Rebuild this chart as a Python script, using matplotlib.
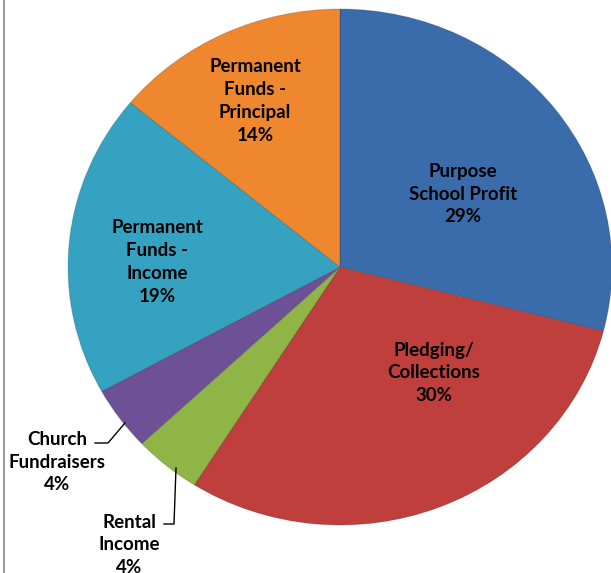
import matplotlib
matplotlib.use("Agg")
import matplotlib.pyplot as plt
from matplotlib.lines import Line2D
import numpy as np

categories = ["Purpose\nSchool Profit", "Pledging/\nCollections", "Rental\nIncome",
              "Church\nFundraisers", "Permanent\nFunds -\nIncome", "Permanent\nFunds -\nPrincipal"]
values = [29, 30, 4, 4, 19, 14]
colors = ["#3A6CAB", "#BE3F3B", "#8FB547", "#6E5097", "#35A2C2", "#EE872E"]

W, H = 611, 573
CX, CY, RX, RY = 340, 267, 272, 258

def to_data(px, py):
    return (px - CX) / RX, (CY - py) / RY

fig = plt.figure(figsize=(W / 100, H / 100), dpi=100)
ax = fig.add_axes([0, 0, 1, 1])
wedges, _ = ax.pie(values, colors=colors, startangle=90, counterclock=False,
                   radius=1, center=(0, 0),
                   wedgeprops=dict(edgecolor=(0, 0, 0, 0.15), linewidth=0.8))
ax.set_aspect("auto")
x0, _ = to_data(0, 0)
x1, _ = to_data(W, 0)
_, y0 = to_data(0, H)
_, y1 = to_data(0, 0)
ax.set_xlim(x0, x1)
ax.set_ylim(y0, y1)
ax.axis("off")

label_px = [(463, 194), (434, 373), (129, 545), (57, 462), (157, 262), (255, 101)]
font = dict(family=["Lato", "DejaVu Sans"], fontsize=13.5, fontweight="bold",
            color="black", ha="center", va="center", linespacing=1.42)
for cat, v, (px, py) in zip(categories, values, label_px):
    x, y = to_data(px, py)
    ax.text(x, y, f"{cat}\n{v}%", **font)

# leader lines for small slices
leaders = [[(125, 423), (108, 443), (95, 443)],
           [(176, 468), (174, 524), (164, 524)]]
for pts in leaders:
    xs, ys = zip(*[to_data(px, py) for px, py in pts])
    ax.plot(xs, ys, color="black", lw=1)

fig.add_artist(Line2D([3.5 / W, 3.5 / W], [0, 1], color="#888888", lw=1.2,
                      transform=fig.transFigure))

fig.savefig("out.png", dpi=100)
